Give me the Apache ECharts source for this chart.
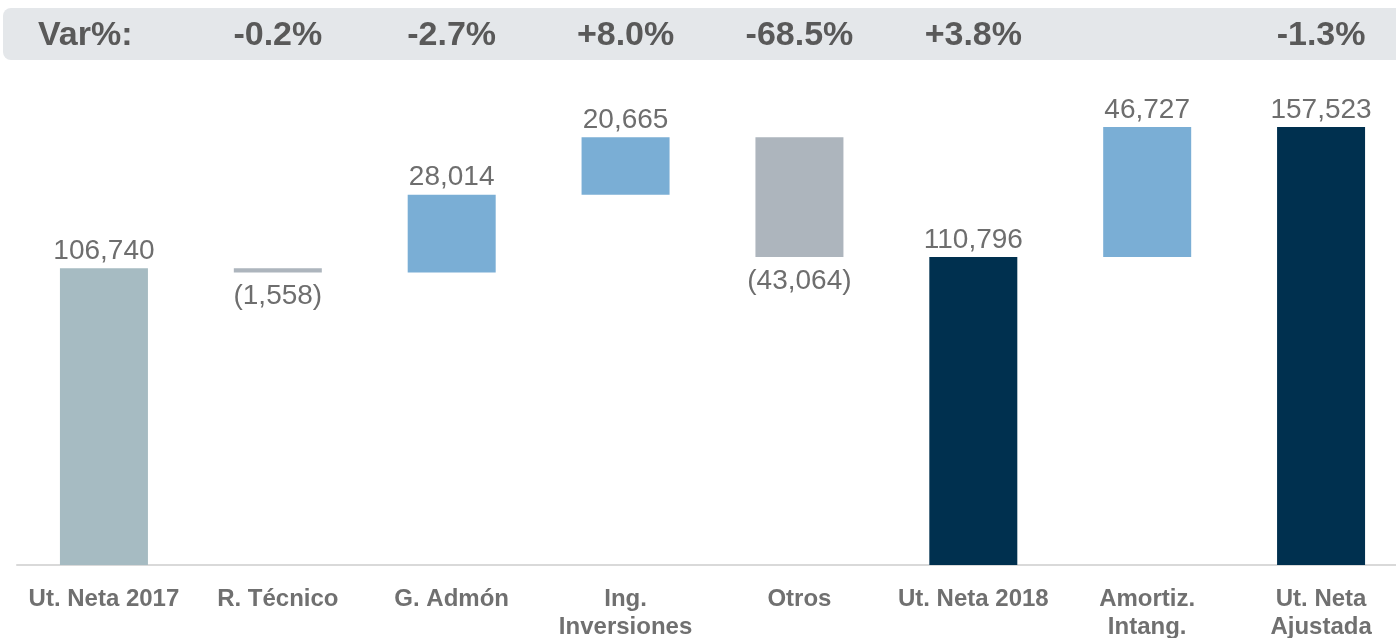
<!DOCTYPE html>
<html>
<head>
<meta charset="utf-8">
<script src="https://cdn.jsdelivr.net/npm/echarts@6/dist/echarts.min.js"></script>
<style>
html,body{margin:0;padding:0;background:#fff;}
#chart{width:1396px;height:638px;}
</style>
</head>
<body>
<div id="chart"></div>
<script>
const categories = ['Ut. Neta 2017', 'R. Técnico', 'G. Admón', 'Ing.\nInversiones', 'Otros', 'Ut. Neta 2018', 'Amortiz.\nIntang.', 'Ut. Neta\nAjustada'];
const values = [106740, -1558, 28014, 20665, -43064, 110796, 46727, 157523];
const isTotal = [true, false, false, false, false, true, false, true];
const varLabels = ['', '-0.2%', '-2.7%', '+8.0%', '-68.5%', '+3.8%', '', '-1.3%'];
const varTitle = 'Var%:';

const colors = ['#a6bbc2', '#adb5bd', '#7aaed5', '#7aaed5', '#adb5bd', '#00304f', '#7aaed5', '#00304f'];

// build waterfall base / height from values
const base = [];
const heights = [];
let running = 0;
values.forEach((v, i) => {
  if (isTotal[i]) {
    base.push(0);
    heights.push(v);
    running = v;
  } else {
    base.push(v < 0 ? running + v : running);
    heights.push(Math.abs(v));
    running += v;
  }
});

const FONT = "'Liberation Sans', Arial, sans-serif";
const fmt = n => Math.abs(n).toLocaleString('en-US');

const barData = heights.map((h, i) => ({
  value: h,
  itemStyle: { color: colors[i] },
  label: values[i] < 0
    ? { position: 'bottom', distance: 10, formatter: '(' + fmt(values[i]) + ')' }
    : { position: 'top', distance: 3, formatter: fmt(values[i]) }
}));

const chart = echarts.init(document.getElementById('chart'), null, { renderer: 'canvas' });
chart.setOption({
  animation: false,
  graphic: [
    { type: 'rect', z: -10, shape: { x: 3, y: 8, width: 1410, height: 52, r: 8 }, style: { fill: '#e4e7ea' } },
    { type: 'text', z: 10, x: 38, y: 36, style: { text: varTitle, fill: '#595959', font: 'bold 34px ' + FONT, verticalAlign: 'middle' } }
  ],
  grid: [
    { left: 17, width: 1391, top: 9, bottom: 73, containLabel: false, outerBoundsMode: 'none' },
    { left: 17, width: 1391, top: 0, height: 36, containLabel: false, outerBoundsMode: 'none' }
  ],
  xAxis: [
    {
      type: 'category', data: categories, gridIndex: 0,
      axisLine: { lineStyle: { color: '#d9d9d9', width: 2 } },
      axisTick: { show: false },
      axisLabel: { color: '#707070', fontFamily: FONT, fontWeight: 'bold', fontSize: 24, lineHeight: 28, margin: 20, interval: 0 }
    },
    {
      type: 'category', data: varLabels, gridIndex: 1,
      axisLine: { show: false }, axisTick: { show: false },
      axisLabel: { color: '#595959', fontFamily: FONT, fontWeight: 'bold', fontSize: 34, margin: 0, verticalAlign: 'middle', interval: 0 }
    }
  ],
  yAxis: [
    { type: 'value', min: 0, max: 200000, show: false, splitLine: { show: false }, gridIndex: 0 },
    { type: 'value', show: false, gridIndex: 1 }
  ],
  series: [
    {
      type: 'bar', stack: 'wf', data: base, barWidth: 88,
      itemStyle: { color: 'transparent' }, silent: true
    },
    {
      type: 'bar', stack: 'wf', data: barData, barWidth: 88,
      label: { show: true, color: '#6e6e6e', fontFamily: FONT, fontSize: 28 }
    }
  ]
});
</script>
</body>
</html>
